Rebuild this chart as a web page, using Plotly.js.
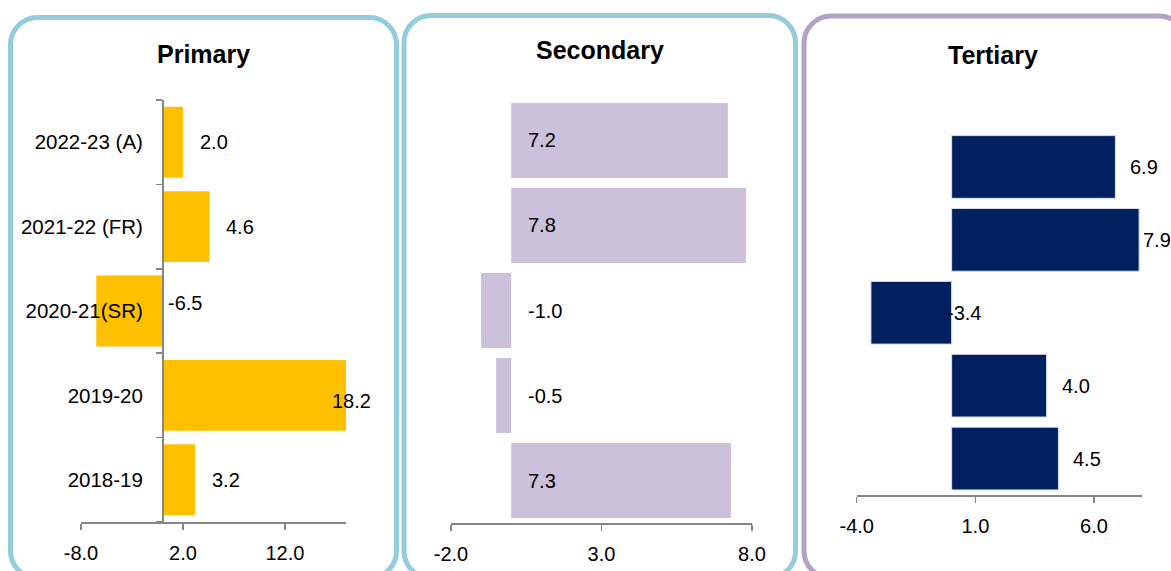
<!DOCTYPE html>
<html>
<head>
<meta charset="utf-8">
<script src="https://cdn.plot.ly/plotly-3.0.1.min.js"></script>
<style>
  html, body { margin: 0; padding: 0; background: #ffffff; }
  #chart { width: 1171px; height: 571px; }
</style>
</head>
<body>
<div id="chart"></div>
<script>
// Year-on-year growth (%) by sector
const categories = ['2018-19', '2019-20', '2020-21(SR)', '2021-22 (FR)', '2022-23 (A)'];
const primaryValues = [3.2, 18.2, -6.5, 4.6, 2.0];
const secondaryValues = [7.3, -0.5, -1.0, 7.8, 7.2];
const tertiaryValues = [4.5, 4.0, -3.4, 7.9, 6.9];

const panelTitles = ['Primary', 'Secondary', 'Tertiary'];
const primaryTicks = [-8, 2, 12];
const secondaryTicks = [-2, 3, 8];
const tertiaryTicks = [-4, 1, 6];

const W = 1171, H = 571;
const px = v => v / W;
const py = v => 1 - v / H;

const FONT = 'Liberation Sans, Arial, sans-serif';
const AXIS = '#868686';

function xAxis(domain, range, ticks) {
  return {
    domain: domain, range: range,
    tickvals: ticks, ticktext: ticks.map(t => t.toFixed(1)),
    showline: true, linecolor: AXIS, linewidth: 1.5,
    ticks: 'outside', ticklen: 6, tickwidth: 1.5, tickcolor: AXIS,
    ticklabelstandoff: 6,
    showgrid: false, zeroline: false, fixedrange: true,
    tickfont: { family: FONT, size: 20, color: '#000' }
  };
}

function yHidden(domain) {
  return {
    domain: domain, type: 'category', range: [-0.5, 4.5],
    categoryorder: 'array', categoryarray: categories,
    showline: false, showticklabels: false, ticks: '',
    showgrid: false, zeroline: false, fixedrange: true
  };
}

const layout = {
  width: W, height: H,
  margin: { l: 0, r: 0, t: 0, b: 0 },
  paper_bgcolor: '#ffffff', plot_bgcolor: 'rgba(0,0,0,0)',
  showlegend: false,
  barmode: 'overlay',
  xaxis: Object.assign(xAxis([px(81), px(346)], [-8, 18], primaryTicks), { anchor: 'y' }),
  yaxis: {
    domain: [py(522), py(100)], type: 'category', range: [-0.5, 4.5],
    categoryorder: 'array', categoryarray: categories,
    anchor: 'free', position: px(162),
    showline: true, linecolor: AXIS, linewidth: 1.5,
    ticks: 'outside', tickson: 'boundaries', ticklen: 6, tickwidth: 1.5, tickcolor: AXIS,
    ticklabelstandoff: 15,
    showgrid: false, zeroline: false, fixedrange: true,
    tickfont: { family: FONT, size: 20.5, color: '#000' }
  },
  xaxis2: Object.assign(xAxis([px(451), px(752)], [-2, 8], secondaryTicks), { anchor: 'y2' }),
  yaxis2: Object.assign(yHidden([py(523), py(98)]), { anchor: 'x2' }),
  xaxis3: Object.assign(xAxis([px(856.7), px(1141.5)], [-4, 8], tertiaryTicks), { anchor: 'y3' }),
  yaxis3: Object.assign(yHidden([py(495), py(130.5)]), { anchor: 'x3' }),
  shapes: [],
  annotations: []
};

// Rounded panel frames, drawn in pixel space and converted to paper units
function roundedFrame(x0, y0, x1, y1, r, color) {
  const k = 0.5523 * r;
  const P = (x, y) => px(x).toFixed(5) + ',' + py(y).toFixed(5);
  const path =
    'M' + P(x0 + r, y0) +
    ' L' + P(x1 - r, y0) +
    ' C' + P(x1 - r + k, y0) + ' ' + P(x1, y0 + r - k) + ' ' + P(x1, y0 + r) +
    ' L' + P(x1, y1 - r) +
    ' C' + P(x1, y1 - r + k) + ' ' + P(x1 - r + k, y1) + ' ' + P(x1 - r, y1) +
    ' L' + P(x0 + r, y1) +
    ' C' + P(x0 + r - k, y1) + ' ' + P(x0, y1 - r + k) + ' ' + P(x0, y1 - r) +
    ' L' + P(x0, y0 + r) +
    ' C' + P(x0, y0 + r - k) + ' ' + P(x0 + r - k, y0) + ' ' + P(x0 + r, y0) + ' Z';
  return { type: 'path', xref: 'paper', yref: 'paper', path: path,
           line: { color: color, width: 5 }, layer: 'below' };
}
layout.shapes.push(roundedFrame(10.5, 17.5, 396.5, 578, 27, '#93CDDD'));
layout.shapes.push(roundedFrame(404, 15.5, 795.5, 578, 27, '#93CDDD'));
layout.shapes.push(roundedFrame(804, 16, 1186, 578, 27, '#B3A2C7'));

// Panel headings
const titleSpots = [[203, 54], [600, 50], [993, 55]];
panelTitles.forEach((t, i) => {
  layout.annotations.push({
    text: '<b>' + t + '</b>', xref: 'paper', yref: 'paper',
    x: px(titleSpots[i][0]), y: py(titleSpots[i][1]),
    xanchor: 'center', yanchor: 'middle', showarrow: false,
    font: { family: FONT, size: 25, color: '#000' }
  });
});

function barTrace(values, color, xa, ya, width, line) {
  return {
    type: 'bar', orientation: 'h',
    x: values, y: categories, xaxis: xa, yaxis: ya,
    width: width,
    marker: { color: color, line: line || { width: 0 } },
    hoverinfo: 'skip'
  };
}

const data = [
  barTrace(primaryValues, '#FFC000', 'x', 'y', 0.84),
  barTrace(secondaryValues, '#CCC1DA', 'x2', 'y2', 0.88),
  barTrace(tertiaryValues, '#002060', 'x3', 'y3', 0.86, { color: '#D6DCEC', width: 1 })
];

// Value labels
function valueLabel(xa, ya, cat, v, anchorX, shift, yshift) {
  layout.annotations.push({
    text: v.toFixed(1), xref: xa, yref: ya,
    x: anchorX, y: cat, xanchor: 'left', yanchor: 'middle',
    xshift: shift, yshift: yshift || 0, showarrow: false,
    font: { family: FONT, size: 20, color: '#000' }
  });
}

// Labels past the axis end are pulled back inside the bar tip
const primaryMax = 18;
primaryValues.forEach((v, i) => {
  if (v < 0) valueLabel('x', 'y', categories[i], v, 0, 3, 8);
  else if (v > primaryMax) valueLabel('x', 'y', categories[i], v, primaryMax, -16, -6);
  else valueLabel('x', 'y', categories[i], v, v, 15);
});

secondaryValues.forEach((v, i) => {
  valueLabel('x2', 'y2', categories[i], v, 0, 15);
});

const tertiaryMax = 8;
tertiaryValues.forEach((v, i) => {
  if (v < 0) valueLabel('x3', 'y3', categories[i], v, 0, -7);
  else if (v > tertiaryMax - 0.5) valueLabel('x3', 'y3', categories[i], v, v, 2);
  else valueLabel('x3', 'y3', categories[i], v, v, 13);
});

Plotly.newPlot('chart', data, layout, { staticPlot: true, displayModeBar: false });
</script>
</body>
</html>
